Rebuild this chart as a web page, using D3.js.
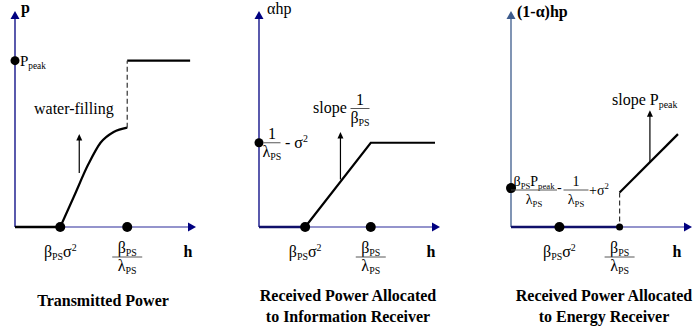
<!DOCTYPE html>
<html>
<head>
<meta charset="utf-8">
<script src="https://cdn.jsdelivr.net/npm/d3@7"></script>
<style>
  #chart, #chart text, #chart tspan { font-family: "Liberation Serif", "Times New Roman", serif !important; }
</style>
</head>
<body style="margin:0">
<svg id="chart" width="693" height="328"></svg>
<script>
var FONT = "'Liberation Serif', 'Times New Roman', serif";

// h positions of the two thresholds (beta*sigma^2 and beta/lambda), per panel
var thresholds1 = [1, 2.48];
var thresholds2 = [1.02, 2.47];
var thresholds3 = [1.07, 2.4];

// transmitted power p(h)
var pZero = [[0, 0], [1, 0]];
var pWater = [[1, 0], [1.3, 0.14], [1.62, 0.29], [1.89, 0.39], [2.18, 0.44], [2.48, 0.46]];
var pPeak = [[2.48, 0.77], [3.87, 0.77]];
var pPeakLevel = 0.77;

// information receiver alpha*h*p
var infoLine = [[0, 0], [1.02, 0], [2.47, 0.39], [3.89, 0.39]];
var infoLevel = 0.39;

// energy receiver (1-alpha)*h*p
var energyZero = [[0, 0], [2.4, 0]];
var energyLine = [[2.4, 0.16], [3.69, 0.43]];
var energyLevel = 0.18;

// small upward arrows [h, from, to]
var arrows = [[1.42, 0.25, 0.43], [1.8, 0.22, 0.44], [3.07, 0.3, 0.54]];

var svg = d3.select("#chart");

var navy = "#000080";

function txt(g, x, y, s, size, bold, anchor) {
    return g.append("text")
        .attr("x", x).attr("y", y)
        .attr("font-family", FONT)
        .attr("style", "font-family:" + FONT + ";font-size:" + size + "px;font-weight:" + (bold ? "bold" : "normal"))
        .attr("text-anchor", anchor || "start")
        .text(s);
}

function panel(x0, yAxisColor) {
    var x = d3.scaleLinear().domain([0, 4]).range([x0, x0 + 181]);
    var y = d3.scaleLinear().domain([0, 1]).range([227, 11]);
    var g = svg.append("g");
    // x axis
    g.append("line")
        .attr("x1", x(0)).attr("x2", x(4) - 5)
        .attr("y1", y(0)).attr("y2", y(0))
        .attr("stroke", "#2a2a9a").attr("stroke-width", 1.2);
    g.append("path")
        .attr("d", "M" + x(4) + "," + y(0) + "l-8,-4.5l0,9z")
        .attr("fill", navy);
    // y axis
    g.append("line")
        .attr("x1", x(0)).attr("x2", x(0))
        .attr("y1", y(0)).attr("y2", y(1) + 5)
        .attr("stroke", yAxisColor).attr("stroke-width", 1.3);
    g.append("path")
        .attr("d", "M" + x(0) + "," + y(1) + "l-4.5,8l9,0z")
        .attr("fill", yAxisColor);
    return { g: g, x: x, y: y };
}

var line = function (p) {
    return d3.line().x(function (d) { return p.x(d[0]); }).y(function (d) { return p.y(d[1]); });
};

function dot(p, h, v, r) {
    p.g.append("circle").attr("cx", p.x(h)).attr("cy", p.y(v)).attr("r", r).attr("fill", "#000");
}

function upArrow(p, a) {
    var xx = p.x(a[0]);
    p.g.append("line")
        .attr("x1", xx).attr("x2", xx)
        .attr("y1", p.y(a[1])).attr("y2", p.y(a[2]) + 5)
        .attr("stroke", "#000").attr("stroke-width", 1.2);
    p.g.append("path")
        .attr("d", "M" + xx + "," + p.y(a[2]) + "l-3,6.5l6,0z")
        .attr("fill", "#000");
}

// text with subscripts / superscripts: parts = [[str, "n"|"sub"|"sup"], ...]
function rich(g, x, y, parts, size, anchor) {
    var t = txt(g, x, y, null, size, false, anchor);
    var shift = 0;
    parts.forEach(function (pt) {
        var want = pt[1] === "sub" ? 3 : pt[1] === "sup" ? -6 : 0;
        var dy = want - shift;
        shift = want;
        t.append("tspan")
            .attr("dy", dy)
            .attr("style", "font-family:" + FONT + ";font-size:" + (pt[1] === "n" ? size : size * 0.62) + "px")
            .text(pt[0]);
    });
    return t;
}

function frac(g, cx, lineY, num, den, w, size) {
    rich(g, cx, lineY - 4, num, size, "middle");
    g.append("line")
        .attr("x1", cx - w / 2).attr("x2", cx + w / 2)
        .attr("y1", lineY).attr("y2", lineY)
        .attr("stroke", "#444").attr("stroke-width", 0.9);
    rich(g, cx, lineY + 14, den, size, "middle");
}

var betaSig = [["β", "n"], ["PS", "sub"], ["σ", "n"], ["2", "sup"]];
var betaPS = [["β", "n"], ["PS", "sub"]];
var lamPS = [["λ", "n"], ["PS", "sub"]];

function xLabels(p, th, hx) {
    rich(p.g, p.x(th[0]), 257, betaSig, 16, "middle");
    frac(p.g, p.x(th[1]), 257, betaPS, lamPS, 30, 16);
    txt(p.g, hx, 257, "h", 16, true, "middle");
}

function title(cx, lines) {
    lines.forEach(function (s, i) {
        txt(svg, cx, lines.length === 1 ? 306 : 301 + i * 21, s, 16, true, "middle");
    });
}

// ---------- panel 1: transmitted power
var p1 = panel(15, navy);
p1.g.append("path").attr("d", line(p1)(pZero)).attr("fill", "none").attr("stroke", "#000").attr("stroke-width", 2.5);
p1.g.append("path").attr("d", line(p1).curve(d3.curveMonotoneX)(pWater)).attr("fill", "none").attr("stroke", "#000").attr("stroke-width", 2.2);
p1.g.append("path").attr("d", line(p1)(pPeak)).attr("fill", "none").attr("stroke", "#000").attr("stroke-width", 2.2);
p1.g.append("line")
    .attr("x1", p1.x(pWater[pWater.length - 1][0])).attr("x2", p1.x(pPeak[0][0]))
    .attr("y1", p1.y(pWater[pWater.length - 1][1])).attr("y2", p1.y(pPeak[0][1]))
    .attr("stroke", "#333").attr("stroke-width", 1.2).attr("stroke-dasharray", "5,3");
dot(p1, 0, pPeakLevel, 4.5);
dot(p1, thresholds1[0], 0, 5);
dot(p1, thresholds1[1], 0, 5);
rich(p1.g, 20, 66, [["P", "n"], ["peak", "sub"]], 15);
txt(p1.g, 34, 114, "water-filling", 16);
upArrow(p1, arrows[0]);
txt(p1.g, 21, 13, "p", 16, true);
xLabels(p1, thresholds1, 188);
title(103, ["Transmitted Power"]);

// ---------- panel 2: information receiver
var p2 = panel(259, navy);
p2.g.append("path").attr("d", line(p2)(infoLine.slice(0, 2))).attr("fill", "none").attr("stroke", "#10106a").attr("stroke-width", 2.5);
p2.g.append("path").attr("d", line(p2)(infoLine.slice(1))).attr("fill", "none").attr("stroke", "#000").attr("stroke-width", 2.2);
dot(p2, 0, infoLevel, 4.5);
dot(p2, thresholds2[0], 0, 5);
dot(p2, thresholds2[1], 0, 5);
frac(p2.g, 272, p2.y(infoLevel), [["1", "n"]], lamPS, 17, 16);
rich(p2.g, 285, 148, [["- σ", "n"], ["2", "sup"]], 16);
txt(p2.g, 313, 113, "slope", 16);
frac(p2.g, 360, 108.5, [["1", "n"]], betaPS, 19, 16);
upArrow(p2, arrows[1]);
txt(p2.g, 267, 14, "αhp", 16);
xLabels(p2, thresholds2, 431);
title(348, ["Received Power Allocated", "to Information Receiver"]);

// ---------- panel 3: energy receiver
var p3 = panel(511, "#3d5b8c");
p3.g.append("path").attr("d", line(p3)(energyZero)).attr("fill", "none").attr("stroke", "#10106a").attr("stroke-width", 2.5);
p3.g.append("path").attr("d", line(p3)(energyLine)).attr("fill", "none").attr("stroke", "#000").attr("stroke-width", 2.2);
p3.g.append("line")
    .attr("x1", p3.x(energyLine[0][0])).attr("x2", p3.x(energyLine[0][0]))
    .attr("y1", p3.y(energyLine[0][1])).attr("y2", p3.y(0))
    .attr("stroke", "#333").attr("stroke-width", 1.2).attr("stroke-dasharray", "5,3");
dot(p3, 0, energyLevel, 5);
dot(p3, thresholds3[0], 0, 5);
dot(p3, energyZero[1][0], 0, 3.5);
frac(p3.g, 534, 190, [["β", "n"], ["PS", "sub"], ["P", "n"], ["peak", "sub"]], lamPS, 46, 14);
txt(p3.g, 557, 192, "-", 14);
frac(p3.g, 576, 190, [["1", "n"]], lamPS, 25, 14);
rich(p3.g, 589, 195, [["+σ", "n"], ["2", "sup"]], 14);
rich(p3.g, 612, 105, [["slope P", "n"], ["peak", "sub"]], 16);
upArrow(p3, arrows[2]);
txt(p3.g, 517, 17, "(1-α)hp", 16, true);
rich(p3.g, p3.x(thresholds3[0]), 257, betaSig, 16, "middle");
frac(p3.g, p3.x(energyZero[1][0]), 257, betaPS, lamPS, 30, 16);
txt(p3.g, 677, 257, "h", 16, true, "middle");
title(604, ["Received Power Allocated", "to Energy Receiver"]);
</script>
</body>
</html>
